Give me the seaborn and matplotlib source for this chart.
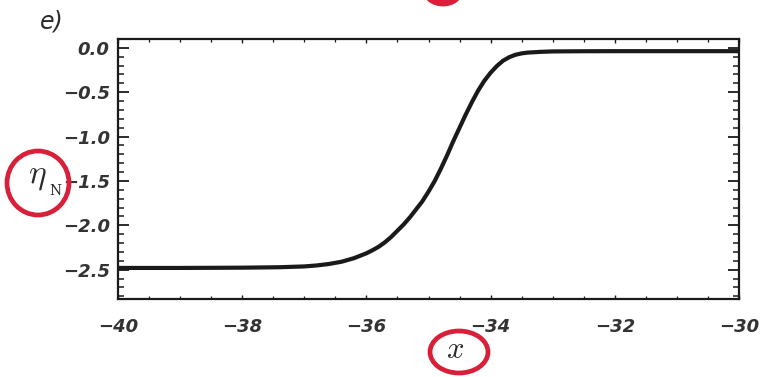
import numpy as np
import pandas as pd
import seaborn as sns
import matplotlib
matplotlib.use("Agg")
import matplotlib.pyplot as plt
from matplotlib.patches import Ellipse
from matplotlib.ticker import MultipleLocator

# ---- data ----
x_vals = [-40.0, -39.0, -38.0, -37.4, -37.0, -36.8, -36.6, -36.4, -36.2, -36.0,
          -35.9, -35.8, -35.7, -35.6, -35.5, -35.4, -35.3, -35.2, -35.1, -35.0,
          -34.9, -34.8, -34.7, -34.6, -34.5, -34.4, -34.3, -34.2, -34.1, -34.0,
          -33.9, -33.8, -33.7, -33.6, -33.5, -33.4, -33.2, -33.0, -32.5, -32.0,
          -31.0, -30.0]
eta_vals = [-2.48, -2.48, -2.477, -2.472, -2.463, -2.452, -2.435, -2.41, -2.37, -2.315,
            -2.28, -2.24, -2.19, -2.13, -2.06, -1.99, -1.91, -1.82, -1.73, -1.62,
            -1.50, -1.36, -1.21, -1.05, -0.90, -0.75, -0.61, -0.48, -0.37, -0.28,
            -0.205, -0.145, -0.105, -0.078, -0.062, -0.053, -0.045, -0.040, -0.038, -0.037,
            -0.037, -0.037]
x_ticks = [-40, -38, -36, -34, -32, -30]
y_ticks = [0.0, -0.5, -1.0, -1.5, -2.0, -2.5]
x_tick_labels = ["\u221240", "\u221238", "\u221236", "\u221234", "\u221232", "\u221230"]
y_tick_labels = ["0.0", "\u22120.5", "\u22121.0", "\u22121.5", "\u22122.0", "\u22122.5"]

df = pd.DataFrame({"x": x_vals, "eta": eta_vals})

sns.set_theme(style="ticks")
plt.rcParams["font.family"] = ["DejaVu Sans"]
plt.rcParams["mathtext.fontset"] = "cm"

fig = plt.figure(figsize=(7.65, 3.77), dpi=100)
ax = fig.add_axes([118 / 765, 1 - 299 / 377, (739 - 118) / 765, (299 - 39) / 377])

sns.lineplot(data=df, x="x", y="eta", ax=ax, color="#1a1a1a", linewidth=3.0)

ax.set_xlim(-40, -30)
ax.set_ylim(-2.83, 0.1)
ax.set_xticks(x_ticks)
ax.set_xticklabels(x_tick_labels, fontsize=13, fontstyle="italic", fontweight="bold",
                   color="#333333")
ax.set_yticks(y_ticks)
ax.set_yticklabels(y_tick_labels, fontsize=13, fontstyle="italic", fontweight="bold",
                   color="#333333")
ax.xaxis.set_minor_locator(MultipleLocator(0.5))
ax.yaxis.set_minor_locator(MultipleLocator(0.1))

for s in ax.spines.values():
    s.set_visible(True)
    s.set_linewidth(1.6)
    s.set_color("#1a1a1a")

ax.tick_params(axis="y", which="major", direction="in", length=8, width=1.3,
               left=True, right=True, pad=6, color="#1a1a1a")
ax.tick_params(axis="y", which="minor", direction="in", length=4, width=1.1,
               left=True, right=True, color="#1a1a1a")
ax.tick_params(axis="x", which="major", direction="in", length=3, width=1.0,
               bottom=True, top=True, pad=14, color="#1a1a1a")
ax.tick_params(axis="x", which="minor", direction="in", length=2, width=0.9,
               bottom=True, top=True, color="#1a1a1a")
ax.set_xlabel("")
ax.set_ylabel("")

# panel label and axis titles
fig.text(40 / 765, 1 - 22 / 377, "e)", fontsize=17, fontstyle="italic",
         ha="left", va="center", color="#2a2a2a")
fig.text(37 / 765, 1 - 176 / 377, r"$\eta$", fontsize=24, ha="center", va="center",
         color="#2a2a2a")
fig.text(55 / 765, 1 - 191 / 377, "N", fontsize=10, family="DejaVu Serif",
         ha="center", va="center", color="#2a2a2a")
fig.text(455 / 765, 1 - 349 / 377, r"$x$", fontsize=22, ha="center", va="center",
         color="#2a2a2a")

# red hand-drawn annotation circles
red = "#d8203a"
fig.patches.append(Ellipse((38 / 765, 1 - 183 / 377), 62 / 765, 64 / 377,
                           transform=fig.transFigure, fill=False, ec=red, lw=3.4))
fig.patches.append(Ellipse((459 / 765, 1 - 352 / 377), 58 / 765, 42 / 377,
                           transform=fig.transFigure, fill=False, ec=red, lw=3.4))
fig.patches.append(Ellipse((443 / 765, 1 + 8 / 377), 36 / 765, 26 / 377,
                           transform=fig.transFigure, fill=True, fc=red, ec=red, lw=2))

fig.savefig("out.png", dpi=100, facecolor="white")
